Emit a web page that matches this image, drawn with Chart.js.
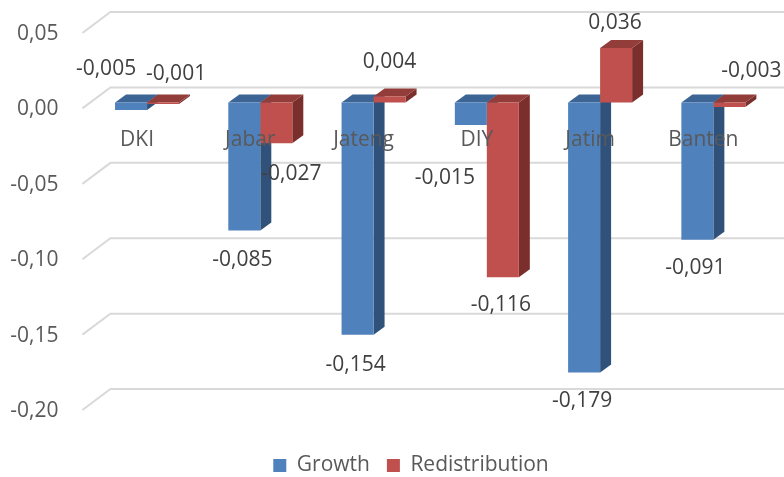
<!DOCTYPE html>
<html>
<head>
<meta charset="utf-8">
<title>Growth vs Redistribution</title>
<script src="https://cdn.jsdelivr.net/npm/chart.js@4.4.0/dist/chart.umd.min.js"></script>
<style>
  html, body { margin: 0; padding: 0; background: #fff; }
  #wrap { width: 784px; height: 477px; }
</style>
</head>
<body>
<div id="wrap"><canvas id="chart"></canvas></div>
<script>
// Regions and the two components
const regions = ['DKI', 'Jabar', 'Jateng', 'DIY', 'Jatim', 'Banten'];
const growth = [-0.005, -0.085, -0.154, -0.015, -0.179, -0.091];
const redistribution = [-0.001, -0.027, 0.004, -0.116, 0.036, -0.003];
const yTicks = [0.05, 0, -0.05, -0.10, -0.15, -0.20];

// pixel nudges for value labels, relative to the end of each bar
const growthLabelShift = [[-25, -41], [-2, 29], [-2, 30], [-26, 53], [-2, 29], [-2, 28]];
const redistLabelShift = [[13, -30], [15, 31], [0, -34], [-2, 28], [-1, -25], [22, -36]];

const FONT = '"Open Sans", sans-serif';
const faces = [
    { front: '#4f81bd', top: '#3c6595', side: '#30517a' },
    { front: '#c0504d', top: '#933d3a', side: '#7b2f2d' }
];
const DEPTH_X = 11, DEPTH_Y = -8;   // bar extrusion

function comma(v, d) {
    return v.toFixed(d).replace('.', ',');
}

// draws the back wall grid, the bar tops/sides, and the text on top
const bar3d = {
    id: 'bar3d',
    afterLayout(chart) {
        // legend sits a bit right of the canvas centre
        if (chart.legend) chart.legend.left = 52;
    },
    beforeDatasetsDraw(chart) {
        const { ctx, chartArea, scales: { y } } = chart;
        ctx.save();
        ctx.strokeStyle = '#d9d9d9';
        ctx.lineWidth = 2;
        yTicks.forEach(v => {
            const py = y.getPixelForValue(v);
            ctx.beginPath();
            ctx.moveTo(chartArea.left - 8, py + 6);
            ctx.lineTo(chartArea.left + 20, py - 15);
            ctx.lineTo(chart.width, py - 15);
            ctx.stroke();
        });

        chart.data.datasets.forEach((ds, di) => {
            chart.getDatasetMeta(di).data.forEach(bar => {
                const { x, y: yEnd, base, width } = bar.getProps(['x', 'y', 'base', 'width'], true);
                const l = x - width / 2, r = x + width / 2;
                const top = Math.min(yEnd, base), bottom = Math.max(yEnd, base);
                // side
                ctx.fillStyle = faces[di].side;
                ctx.beginPath();
                ctx.moveTo(r, top);
                ctx.lineTo(r + DEPTH_X, top + DEPTH_Y);
                ctx.lineTo(r + DEPTH_X, bottom + DEPTH_Y);
                ctx.lineTo(r, bottom);
                ctx.closePath();
                ctx.fill();
                // top
                ctx.fillStyle = faces[di].top;
                ctx.beginPath();
                ctx.moveTo(l, top);
                ctx.lineTo(r, top);
                ctx.lineTo(r + DEPTH_X, top + DEPTH_Y);
                ctx.lineTo(l + DEPTH_X, top + DEPTH_Y);
                ctx.closePath();
                ctx.fill();
            });
        });
        ctx.restore();
    },
    afterDatasetsDraw(chart) {
        const { ctx, scales: { x, y } } = chart;
        ctx.save();
        ctx.font = '21px ' + FONT;
        ctx.textAlign = 'center';
        ctx.textBaseline = 'middle';

        // category names sit just under the zero plane
        ctx.fillStyle = '#595959';
        const zero = y.getPixelForValue(0);
        regions.forEach((name, i) => {
            ctx.fillText(name, x.getPixelForValue(i) - 10, zero + 38);
        });

        // value labels
        ctx.fillStyle = '#404040';
        [growthLabelShift, redistLabelShift].forEach((shift, di) => {
            const values = chart.data.datasets[di].data;
            chart.getDatasetMeta(di).data.forEach((bar, i) => {
                ctx.fillText(comma(values[i], 3), bar.x + shift[i][0], bar.y + shift[i][1]);
            });
        });
        ctx.restore();
    }
};

const ctx = document.getElementById('chart').getContext('2d');

new Chart(ctx, {
    type: 'bar',
    data: {
        labels: regions,
        datasets: [
            {
                label: 'Growth',
                data: growth,
                backgroundColor: faces[0].front,
                borderWidth: 0
            },
            {
                label: 'Redistribution',
                data: redistribution,
                backgroundColor: faces[1].front,
                borderWidth: 0
            }
        ]
    },
    options: {
        responsive: true,
        maintainAspectRatio: false,
        animation: false,
        layout: {
            padding: { left: 0, right: 14, top: 27, bottom: -9 }
        },
        datasets: {
            bar: {
                categoryPercentage: 0.565,
                barPercentage: 1
            }
        },
        plugins: {
            legend: {
                position: 'bottom',
                labels: {
                    boxWidth: 13,
                    boxHeight: 13,
                    padding: 17,
                    color: '#595959',
                    font: { family: FONT, size: 21 }
                }
            },
            tooltip: { enabled: false }
        },
        scales: {
            x: {
                display: false
            },
            y: {
                min: -0.2225,
                max: 0.05,
                afterBuildTicks: scale => {
                    scale.ticks = yTicks.map(v => ({ value: v }));
                },
                afterFit: scale => {
                    scale.width = 90.4;
                    scale.paddingTop = 0;
                    scale.paddingBottom = 0;
                },
                grid: { display: false, drawTicks: false },
                border: { display: false },
                ticks: {
                    padding: 32,
                    labelOffset: 7,
                    color: '#595959',
                    font: { family: FONT, size: 21 },
                    callback: v => comma(v, 2)
                }
            }
        }
    },
    plugins: [bar3d]
});
</script>
</body>
</html>
